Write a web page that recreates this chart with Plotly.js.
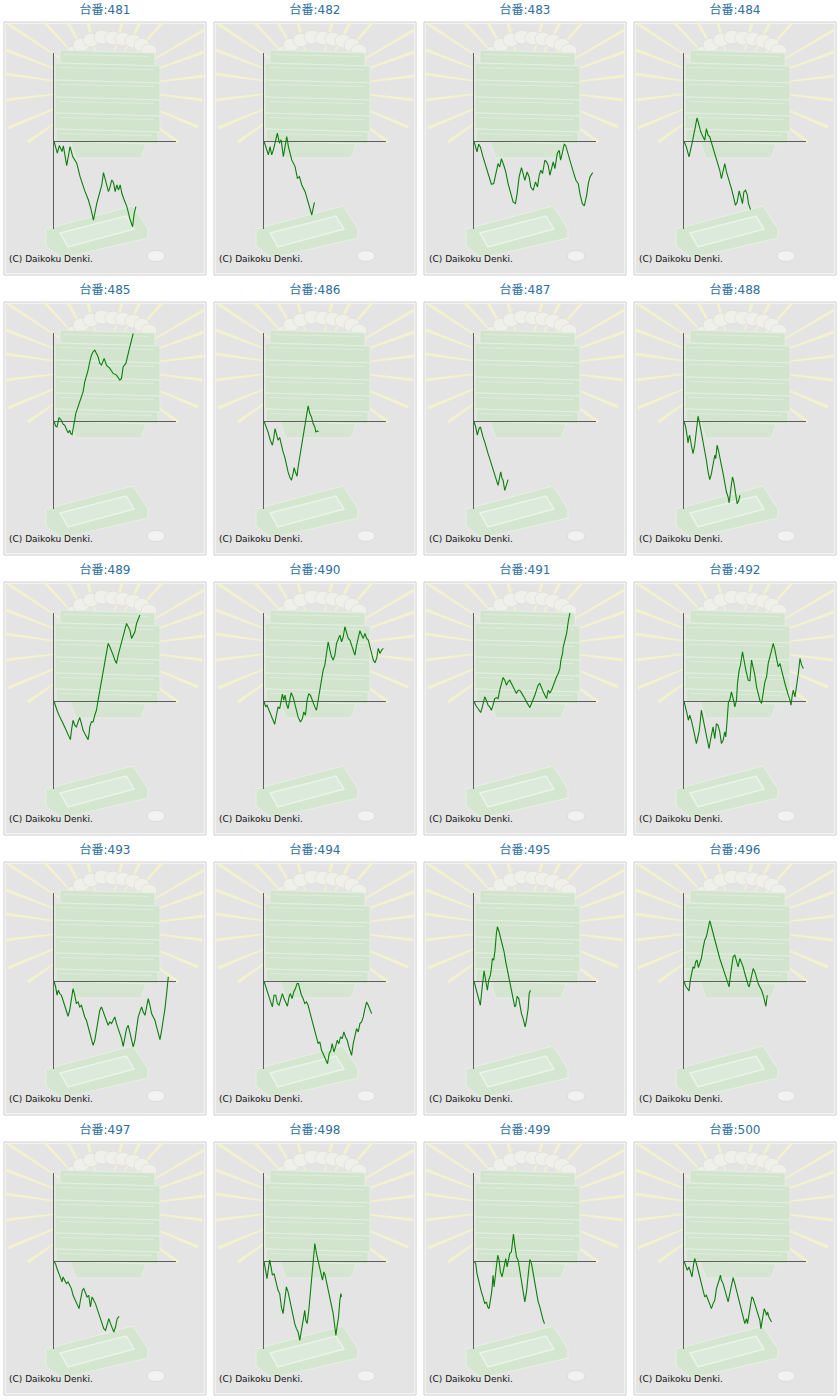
<!DOCTYPE html>
<html>
<head>
<meta charset="utf-8">
<script src="https://cdn.plot.ly/plotly-3.0.1.min.js"></script>
<style>
  body { margin: 0; background: #fff; }
  #grid { position: relative; width: 840px; height: 1400px; }
  .panel { position: absolute; width: 210px; height: 280px; }
</style>
</head>
<body>
<div id="grid"></div>
<script>
// 台番 481-500 の差枚推移 (g = ゲーム数, d = 差枚, 画面から読み取り)
const units = [481, 482, 483, 484, 485, 486, 487, 488, 489, 490,
               491, 492, 493, 494, 495, 496, 497, 498, 499, 500];

const g481 = [0,10,16,24,28,38,48,56,68,78,93,103,110,118,128,133,138,143,148,156,163,168,173,178,183,188,193,198,203,210,218,228,235,240,245];
const d481 = [0,-36,-13,-31,-14,-73,-16,-46,-66,-106,-151,-176,-201,-236,-186,-166,-151,-131,-94,-124,-151,-136,-116,-124,-151,-131,-146,-131,-156,-176,-196,-236,-256,-216,-196];

const g482 = [0,8,13,18,23,28,35,40,46,51,58,63,68,73,83,93,100,106,113,123,130,136,143,148,151];
const d482 = [0,-26,-41,-16,-41,-26,9,24,-6,4,-46,-16,14,-16,-56,-76,-111,-106,-131,-151,-176,-191,-221,-196,-183];

const g483 = [0,4,9,14,19,27,37,45,52,59,65,72,77,82,89,95,102,109,117,124,129,135,142,147,152,159,165,170,177,184,190,195,200,205,212,217,222,227,232,237,242,249,255,259,265,270,274,282,290,297,305,312,317,324,330,337,342,347,355];
const d483 = [0,-15,-32,-9,-17,-47,-82,-107,-129,-127,-97,-67,-77,-52,-72,-92,-127,-157,-182,-187,-157,-107,-79,-97,-117,-92,-107,-137,-147,-122,-137,-102,-87,-97,-57,-62,-72,-102,-77,-62,-82,-37,-27,-57,-32,-9,-12,-42,-72,-92,-117,-127,-157,-187,-194,-162,-127,-107,-94];

const g484 = [0,7,15,20,25,32,39,45,50,57,62,67,72,77,85,92,99,107,112,117,122,127,132,137,142,147,154,159,165,170,175,179,184,189,193,199];
const d484 = [0,-17,-47,-27,-2,33,70,48,28,13,3,38,18,13,-12,-37,-62,-87,-112,-87,-67,-92,-107,-127,-142,-162,-192,-182,-149,-167,-187,-152,-147,-159,-187,-205];

const g485 = [0,5,9,15,22,27,32,37,42,47,50,54,59,62,65,72,79,87,92,97,102,107,112,117,122,127,132,137,142,150,157,167,177,187,197,202,207,215,222,227,232,237];
const d485 = [0,-15,-17,11,3,-9,-12,-22,-35,-27,-37,-40,-17,3,23,43,63,88,118,133,153,178,198,208,213,203,193,173,168,188,168,158,143,138,123,128,163,173,198,223,243,263];

const g486 = [0,5,12,19,25,29,33,37,42,47,52,57,62,67,72,77,82,87,90,94,99,102,107,112,117,122,127,132,137,142,147,152,155,160,163];
const d486 = [0,-12,-32,-57,-72,-52,-22,-37,-57,-49,-72,-92,-107,-132,-152,-167,-177,-157,-139,-152,-165,-137,-107,-87,-52,-17,13,46,23,13,-7,-17,-32,-29,-32];

const g487 = [0,5,10,15,19,22,27,32,37,42,47,52,57,62,67,72,77,80,84,87,92,97,102];
const d487 = [0,-17,-42,-22,-17,-32,-47,-62,-82,-97,-112,-127,-142,-157,-177,-192,-167,-152,-172,-177,-207,-187,-175];

const g488 = [0,5,9,12,15,17,22,27,32,37,42,47,52,57,62,67,72,77,82,87,92,95,99,103,107,112,117,122,127,132,135,139,145,149,154,159,164,167];
const d488 = [0,-17,-42,-65,-47,-42,-72,-97,-72,-17,15,-7,-32,-62,-87,-117,-152,-175,-157,-127,-102,-112,-72,-87,-112,-132,-157,-187,-212,-227,-245,-212,-167,-182,-217,-247,-237,-222];

const g489 = [0,5,9,15,19,25,32,39,45,49,53,57,62,67,72,77,82,87,92,97,102,105,107,112,117,122,127,132,137,142,147,152,157,162,167,172,177,182,187,192,197,202,207,212,217,222,227,232,237,242,247,252,257];
const d489 = [0,-12,-27,-42,-49,-62,-77,-92,-107,-115,-82,-57,-72,-77,-62,-49,-67,-87,-97,-107,-115,-97,-77,-62,-62,-42,-27,3,33,63,93,123,153,173,163,153,138,123,113,138,158,178,193,218,233,223,213,188,198,208,233,243,258];

const g490 = [0,5,9,14,19,25,32,37,42,47,52,55,59,63,67,72,77,81,87,92,97,102,109,115,119,124,129,134,139,144,152,157,162,167,172,177,182,187,192,197,202,207,212,217,222,227,232,237,242,247,252,257,262,267,272,277,282,287,292,297,302,307,312,317,322,327,332,337,342,347,352,357];
const d490 = [0,-17,-12,-27,-37,-52,-69,-42,-17,-22,3,21,3,18,-7,-22,3,25,13,-7,-27,-47,-62,-52,-32,-42,3,23,18,3,-17,-27,3,38,73,93,108,143,178,153,133,123,138,173,188,198,178,193,223,203,188,183,168,153,138,168,193,211,198,188,203,188,183,163,143,123,115,128,158,143,153,158];

const g491 = [0,5,12,20,25,32,37,42,47,52,57,62,67,72,77,82,87,92,97,102,107,112,117,122,127,132,137,142,147,152,157,162,167,172,177,182,187,192,197,202,207,212,217,222,227,232,237,242,247,252,257,260,265,267,272,277,282,287];
const d491 = [0,-12,-22,-34,-17,13,3,-12,-17,-27,-12,8,11,8,33,53,71,63,48,58,63,53,43,33,23,33,33,25,18,8,-2,-12,-19,-7,3,18,33,48,53,38,28,18,8,33,25,33,48,58,73,83,98,123,143,163,183,203,238,265];

const g492 = [0,5,9,13,17,22,27,32,37,42,45,49,52,57,62,67,72,75,79,83,87,92,97,102,107,112,117,122,125,129,133,137,142,147,152,157,160,165,169,175,179,185,192,197,202,207,212,217,222,227,232,237,242,247,252,257,262,267,272,277,282,287,292,297,302,307,312,317,320,324,327,332,337,342,347,352,357];
const d492 = [0,-17,-37,-57,-42,-57,-77,-102,-127,-107,-92,-57,-27,-52,-82,-102,-127,-142,-117,-97,-77,-112,-67,-72,-92,-127,-117,-92,-107,-57,-2,3,28,8,-17,3,53,93,108,148,123,93,63,61,123,103,78,43,23,3,-7,23,58,73,113,133,153,173,153,128,103,113,88,73,53,33,18,3,-12,18,33,13,43,83,128,108,98];

const g493 = [0,5,9,13,17,22,27,32,37,42,47,52,57,62,67,72,77,82,87,92,97,102,107,112,117,122,127,132,137,142,147,152,157,162,167,172,177,182,187,192,197,202,207,212,217,222,227,232,237,242,247,252,257,262,267,272,277,282,287,292,297,302,307,312,317,322,327,332,337,342];
const d493 = [0,-17,-42,-27,-37,-42,-57,-72,-92,-105,-87,-47,-22,-42,-67,-62,-77,-72,-92,-107,-117,-137,-152,-172,-192,-177,-147,-117,-87,-77,-92,-107,-117,-132,-122,-127,-117,-107,-127,-142,-157,-172,-195,-167,-142,-132,-152,-172,-197,-177,-147,-107,-92,-77,-92,-102,-77,-52,-72,-97,-107,-117,-137,-157,-175,-147,-117,-82,-37,13];

const g494 = [0,5,10,15,20,25,30,35,40,45,50,55,60,65,70,75,79,84,89,94,99,103,107,112,117,122,127,132,137,142,147,152,157,162,167,172,177,182,187,190,195,200,204,209,214,219,224,229,234,239,244,249,254,259,262,267,272,277,282,287,292,297,302,307,312,317,322];
const d494 = [0,-17,-32,-47,-62,-77,-42,-42,-67,-72,-57,-37,-52,-62,-75,-47,-37,-52,-32,-22,-7,-7,-22,-42,-52,-67,-62,-72,-92,-112,-132,-152,-172,-187,-182,-207,-217,-227,-237,-247,-217,-207,-187,-212,-197,-177,-187,-167,-172,-152,-167,-177,-197,-217,-222,-187,-167,-142,-152,-127,-122,-107,-82,-62,-72,-87,-97];

const g495 = [0,5,9,14,19,23,27,30,34,37,40,44,49,52,55,59,63,67,70,75,80,85,90,95,99,104,107,112,117,122,125,129,134,139,142,147,150,153,157,162,165,169];
const d495 = [0,-17,-37,-52,-72,-32,18,31,8,-17,-27,3,18,38,68,63,93,143,163,148,128,108,88,58,33,13,-2,-27,-57,-77,-72,-45,-52,-82,-97,-112,-122,-137,-117,-82,-37,-27];

const g496 = [0,5,10,15,19,23,27,31,35,39,43,47,52,57,62,67,72,77,82,87,92,97,102,107,112,117,122,127,132,135,139,143,147,152,157,162,167,172,177,182,187,192,195,199,203,207,212,217,222,227,232,237,242,245,249];
const d496 = [0,-15,-22,-29,3,23,43,38,58,63,41,53,68,98,123,133,158,181,163,143,128,108,88,68,53,38,28,13,-2,-17,18,48,73,78,58,43,68,58,43,23,3,-12,-17,3,18,38,28,8,-7,-17,-27,-42,-67,-75,-42];

const g497 = [0,5,9,14,19,24,27,32,37,42,47,52,57,62,67,72,75,79,85,89,94,99,104,109,114,119,124,129,134,139,144,149,154,159,164,169,174,179,184,189,195];
const d497 = [0,-9,-22,-37,-52,-62,-47,-57,-67,-62,-72,-82,-102,-112,-122,-132,-142,-117,-87,-82,-97,-107,-102,-137,-107,-117,-127,-142,-157,-167,-182,-202,-207,-187,-172,-187,-202,-212,-197,-172,-165];

const g498 = [0,4,9,14,17,22,25,30,33,37,42,47,52,57,62,67,72,77,82,87,92,97,102,107,112,117,122,125,129,134,139,142,147,152,157,162,167,172,175,179,183,187,192,197,202,207,212,215,219,223,227,230,232];
const d498 = [0,-27,-52,-17,3,-22,-42,-37,-52,-67,-87,-97,-137,-157,-117,-77,-92,-117,-142,-167,-187,-202,-212,-237,-207,-167,-147,-177,-187,-147,-97,-47,-7,53,23,-2,-22,-42,-57,-32,-42,-62,-87,-107,-127,-157,-197,-222,-192,-167,-117,-97,-107];

const g499 = [0,5,9,13,17,22,27,32,37,41,45,49,53,57,60,64,67,71,75,79,84,87,91,95,99,103,107,112,115,118,122,127,132,137,142,147,152,157,162,167,172,177,182,187,192,197,202,207,211];
const d499 = [0,-7,-37,-57,-72,-92,-107,-127,-122,-137,-142,-112,-92,-42,-77,-42,-17,18,3,-32,-47,-32,-7,8,-17,8,23,28,63,81,48,13,3,-32,-67,-102,-122,-92,-42,5,-7,-37,-67,-97,-122,-137,-162,-177,-187];

const g500 = [0,5,10,15,19,24,29,32,37,42,47,52,57,62,67,72,77,82,87,92,97,101,105,109,112,117,122,127,132,137,142,147,152,157,162,167,172,177,182,187,190,195,199,203,207,212,217,222,227,230,234,237,240,244,247,250,254,259,262];
const d500 = [0,-12,-27,-17,-32,-47,-7,8,-7,-27,-47,-67,-87,-107,-102,-117,-127,-142,-127,-117,-82,-72,-57,-42,-57,-67,-87,-107,-122,-97,-72,-49,-67,-87,-107,-127,-147,-167,-187,-172,-187,-157,-137,-107,-112,-127,-142,-157,-177,-202,-177,-157,-142,-152,-162,-152,-167,-177,-182];

const gamesList = [g481, g482, g483, g484, g485, g486, g487, g488, g489, g490,
                   g491, g492, g493, g494, g495, g496, g497, g498, g499, g500];
const diffList = [d481, d482, d483, d484, d485, d486, d487, d488, d489, d490,
                  d491, d492, d493, d494, d495, d496, d497, d498, d499, d500];

const X_RANGE = [0, 365];
const Y_RANGE = [-262, 265];

// panel is 210 x 280 px, shapes are given in panel px and turned into paper units
const W = 210, H = 280;
const fx = v => v / W;
const fy = v => 1 - v / H;

function poly(pts) {
  return "M " + pts.map(p => fx(p[0]).toFixed(4) + "," + fy(p[1]).toFixed(4)).join(" L ") + " Z";
}

function pathShape(pts, fill, lineColor, lw) {
  return {
    type: "path", xref: "paper", yref: "paper", layer: "below",
    path: poly(pts), fillcolor: fill,
    line: { color: lineColor || "rgba(0,0,0,0)", width: lw || 0 },
  };
}

function ellipse(cx, cy, rx, ry, fill, lineColor) {
  return {
    type: "circle", xref: "paper", yref: "paper", layer: "below",
    x0: fx(cx - rx), x1: fx(cx + rx), y0: fy(cy + ry), y1: fy(cy - ry),
    fillcolor: fill, line: { color: lineColor, width: 0.7 },
  };
}

// faint background picture (rays, ball box stack, tray, coin)
const RAY_C = [105, 88];
const RAY_ENDS = [[8,24],[6,50],[6,74],[6,100],[8,128],[28,142],[45,23],[68,23],[88,23],
                  [122,23],[140,23],[162,23],[204,30],[204,52],[204,76],[203,100],[198,127],[178,142]];

function ray(e) {
  const dx = e[0] - RAY_C[0], dy = e[1] - RAY_C[1];
  const L = Math.hypot(dx, dy);
  const ux = dx / L, uy = dy / L, nx = -uy, ny = ux;
  const sx = RAY_C[0] + ux * 30, sy = RAY_C[1] + uy * 30;
  return pathShape([
    [sx + nx * 0.4, sy + ny * 0.4],
    [e[0] + nx * 1.5, e[1] + ny * 1.5],
    [e[0] - nx * 1.5, e[1] - ny * 1.5],
    [sx - nx * 0.4, sy - ny * 0.4],
  ], "#f4f2cc");
}

function decorShapes() {
  const s = [];
  s.push({ type: "rect", xref: "paper", yref: "paper", layer: "below",
           x0: fx(4), x1: fx(206), y0: fy(275), y1: fy(22),
           fillcolor: "#ffffff", line: { color: "#cccccc", width: 1 } });
  s.push({ type: "rect", xref: "paper", yref: "paper", layer: "below",
           x0: fx(5.5), x1: fx(204.5), y0: fy(273.5), y1: fy(23.5),
           fillcolor: "#e4e4e4", line: { width: 0 } });

  RAY_ENDS.forEach(e => s.push(ray(e)));

  [[73,53],[81,45],[91,40],[102,37],[113,38],[123,39],[133,41],[142,45],[149,51]]
    .forEach(b => s.push(ellipse(b[0], b[1], 8, 7, "#f0f0ea", "#dcdcd3")));

  [[50,63,60,155],[63,80,55,160],[80,97,55,160],[97,113,55,160],[113,129,55,160],[129,141,56,158]]
    .forEach(l => {
      s.push(pathShape([[l[2], l[0]], [l[3], l[0] + 3], [l[3], l[1] + 3], [l[2], l[1]]], "#d2e4ce", "#e3efe0", 1));
      s.push(pathShape([[l[2] + 4, l[0] + 4], [l[3] - 6, l[0] + 6], [l[3] - 6, l[0] + 7], [l[2] + 4, l[0] + 5]], "#deecdb"));
    });
  s.push(pathShape([[70,141],[146,144],[141,158],[76,158]], "#d5e5d1", "#e3efe0", 1));

  s.push(pathShape([[46,229],[133,206],[148,229],[148,238],[62,258],[46,246]], "#d4e6d0", "#e6f1e3", 1));
  s.push(pathShape([[60,233],[126,216],[134,229],[68,247]], "#dbeada", "#eaf4e8", 1.5));
  s.push(ellipse(156, 256, 9, 5.5, "#f2f2f2", "#d4d4d4"));
  return s;
}

const grid = document.getElementById("grid");

units.forEach((unit, i) => {
  const div = document.createElement("div");
  div.className = "panel";
  div.style.left = (i % 4) * W + "px";
  div.style.top = Math.floor(i / 4) * H + "px";
  grid.appendChild(div);

  const trace = {
    type: "scatter",
    mode: "lines",
    x: gamesList[i],
    y: diffList[i],
    line: { color: "#0b7f0b", width: 1.1 },
    hoverinfo: "skip",
  };

  const layout = {
    width: W,
    height: H,
    margin: { l: 0, r: 0, t: 0, b: 0 },
    paper_bgcolor: "#ffffff",
    plot_bgcolor: "rgba(0,0,0,0)",
    showlegend: false,
    title: {
      text: "台番:" + unit,
      x: 0.5, xanchor: "center",
      y: 1 - 10 / H, yanchor: "middle", yref: "container",
      font: { family: "DejaVu Sans, Noto Sans CJK JP, sans-serif", size: 12, color: "#2f6d9c" },
    },
    xaxis: {
      domain: [54 / W, 176 / W],
      range: X_RANGE,
      visible: false,
    },
    yaxis: {
      domain: [1 - 228.7 / H, 1 - 52.7 / H],
      range: Y_RANGE,
      showgrid: false,
      zeroline: true, zerolinecolor: "#5e5e5e", zerolinewidth: 1,
      showline: true, linecolor: "#5e5e5e", linewidth: 1,
      ticks: "", showticklabels: false,
    },
    shapes: decorShapes(),
    annotations: [{
      xref: "paper", yref: "paper",
      x: fx(7), y: fy(259), xanchor: "left", yanchor: "middle",
      text: "(C) Daikoku Denki.", showarrow: false,
      font: { family: "DejaVu Sans, sans-serif", size: 9, color: "#111111" },
    }],
  };

  Plotly.newPlot(div, [trace], layout, { staticPlot: true, displayModeBar: false });
});
</script>
</body>
</html>
